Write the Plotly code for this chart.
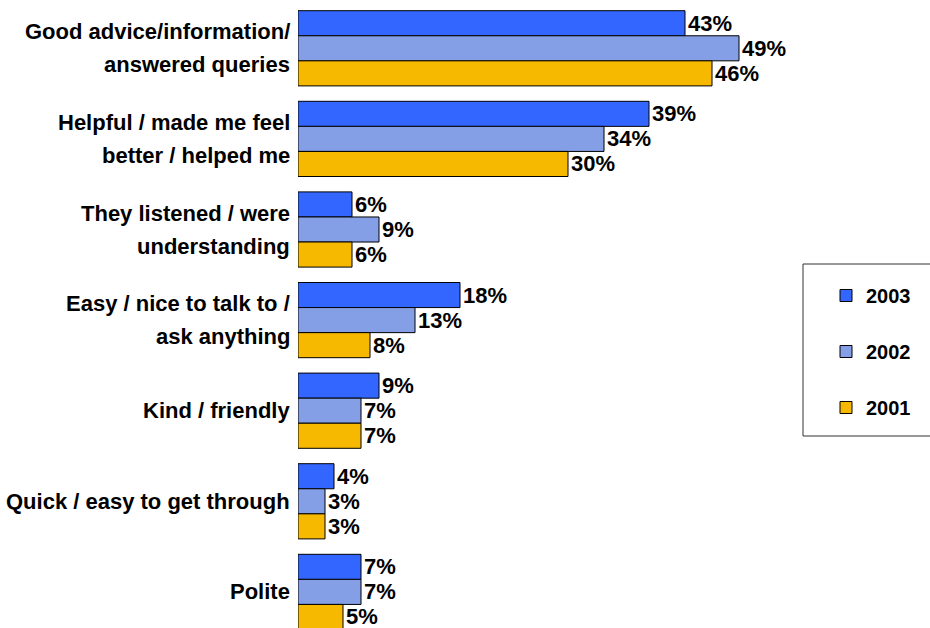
import plotly.graph_objects as go

# Reasons callers gave for rating the service well, by survey year
categories = [
    "Good advice/information/\nanswered queries",
    "Helpful / made me feel\nbetter / helped me",
    "They listened / were\nunderstanding",
    "Easy / nice to talk to /\nask anything",
    "Kind / friendly",
    "Quick / easy to get through",
    "Polite",
]
years = ["2003", "2002", "2001"]
values_2003 = [43, 39, 6, 18, 9, 4, 7]
values_2002 = [49, 34, 9, 13, 7, 3, 7]
values_2001 = [46, 30, 6, 8, 7, 3, 5]
colors = ["#3366FF", "#849FE6", "#F7B800"]

FONT = "Liberation Sans, Arial, sans-serif"
W, H = 930, 628
ML, MT = 298, 3
PLOT_W = W - ML
PLOT_H = H - MT

fig = go.Figure()
for year, vals, col in zip(years, [values_2003, values_2002, values_2001], colors):
    fig.add_trace(go.Bar(
        y=categories,
        x=vals,
        name=year,
        orientation="h",
        legendgroup=year,
        marker=dict(color=col, line=dict(color="#000000", width=1)),
        text=[f"{v}%" for v in vals],
        textposition="outside",
        textfont=dict(family=FONT, size=22, color="#000000", weight="bold"),
        constraintext="none",
        cliponaxis=False,
        hoverinfo="skip",
    ))

# Category labels, one annotation per text line for wider line spacing
LINE_GAP = 33
annotations = []
for cat in categories:
    lines = cat.split("\n")
    n = len(lines)
    for i, line in enumerate(lines):
        annotations.append(dict(
            x=0, xref="paper", y=cat, yref="y",
            text=line, showarrow=False,
            xanchor="right", yanchor="middle",
            xshift=-6, yshift=((n - 1) / 2 - i) * LINE_GAP,
            font=dict(family=FONT, size=22, color="#000000", weight="bold"),
        ))

# Legend frame
shapes = [dict(
    type="rect", xref="paper", yref="paper",
    x0=(803 - ML) / PLOT_W, x1=1.02,
    y0=(H - 436) / PLOT_H, y1=(H - 264) / PLOT_H,
    line=dict(color="#333333", width=1), fillcolor="white", layer="below",
)]

fig.update_layout(
    width=W, height=H,
    margin=dict(l=ML, r=0, t=MT, b=0, pad=0),
    paper_bgcolor="white", plot_bgcolor="white",
    barmode="group", bargap=0.17, bargroupgap=0,
    xaxis=dict(range=[0, PLOT_W / 9.0], visible=False, fixedrange=True),
    yaxis=dict(
        type="category", categoryorder="array", categoryarray=categories,
        range=[-0.5 + PLOT_H / 90.6, -0.5],
        showticklabels=False, showgrid=False, zeroline=False, showline=False,
        ticks="", fixedrange=True,
    ),
    showlegend=True,
    legend=dict(
        x=(826 - ML) / PLOT_W, xanchor="left",
        y=(H - 276) / PLOT_H, yanchor="top",
        font=dict(family=FONT, size=20, color="#000000", weight="bold"),
        bgcolor="rgba(0,0,0,0)", borderwidth=0,
        tracegroupgap=27, traceorder="grouped",
    ),
    annotations=annotations,
    shapes=shapes,
)

fig.write_html("out.html")
